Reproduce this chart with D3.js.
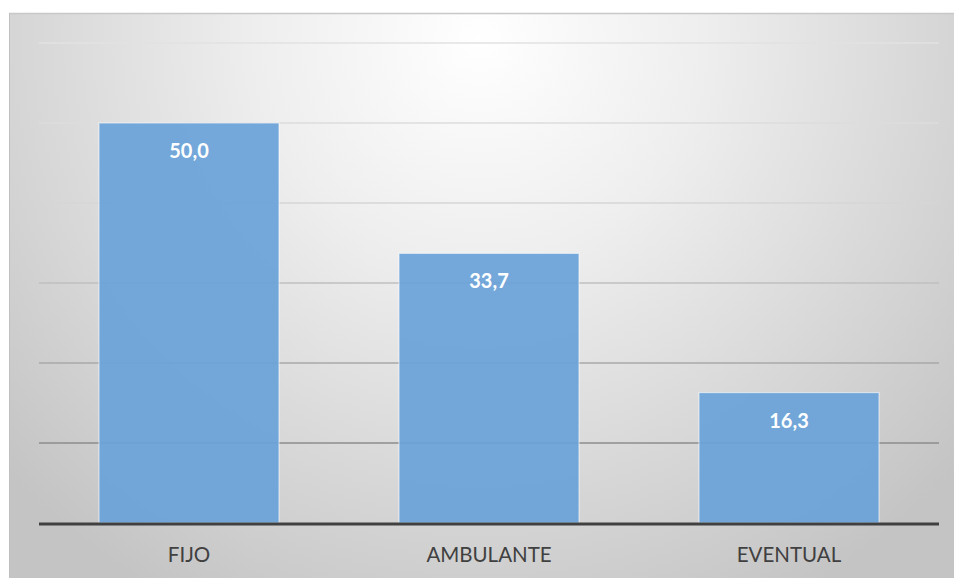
<!DOCTYPE html>
<html>
<head>
<meta charset="utf-8">
<script src="https://cdn.jsdelivr.net/npm/d3@7"></script>
<style>
  html, body { margin: 0; padding: 0; background: #ffffff; }
  svg { display: block; }
</style>
</head>
<body>
<div id="chart"></div>
<script>
const categories = ["FIJO", "AMBULANTE", "EVENTUAL"];
const values = [50.0, 33.7, 16.3];
const valueLabels = ["50,0", "33,7", "16,3"];
const yTicks = [0, 10, 20, 30, 40, 50, 60];

const W = 954, H = 578;
const svg = d3.select("#chart").append("svg").attr("width", W).attr("height", H);

const defs = svg.append("defs");
const grad = defs.append("radialGradient")
  .attr("id", "bg").attr("gradientUnits", "userSpaceOnUse")
  .attr("cx", 480).attr("cy", 40).attr("r", 640)
  .attr("fx", 480).attr("fy", 40);
grad.append("stop").attr("offset", "0").attr("stop-color", "#ffffff");
grad.append("stop").attr("offset", "0.35").attr("stop-color", "#eeeeee");
grad.append("stop").attr("offset", "1").attr("stop-color", "#c4c4c4");

// card
svg.append("rect").attr("x", 9).attr("y", 13).attr("width", W - 9).attr("height", H - 13)
  .attr("fill", "url(#bg)");
svg.append("line").attr("x1", 9).attr("x2", W).attr("y1", 13.5).attr("y2", 13.5)
  .attr("stroke", "#c8c8c8").attr("stroke-width", 1.5);
svg.append("line").attr("x1", 9.5).attr("x2", 9.5).attr("y1", 13).attr("y2", H)
  .attr("stroke", "#c0c0c0").attr("stroke-width", 1);

const x = d3.scaleBand().domain(categories).range([39, 939]).paddingInner(0.4).paddingOuter(0.2);
const y = d3.scaleLinear().domain([0, 60]).range([523, 43]);

const gridColor = d3.scaleLinear().domain([60, 40, 20, 10]).range(["#e2e2e2", "#d6d6d6", "#a8a8a8", "#8c8c8c"]);

// gridlines
svg.append("g").selectAll("line").data(yTicks.filter(d => d > 0)).join("line")
  .attr("x1", 39).attr("x2", 939)
  .attr("y1", d => y(d)).attr("y2", d => y(d))
  .attr("stroke", d => gridColor(d)).attr("stroke-width", 1.6);

// bars
svg.append("g").selectAll("rect").data(values).join("rect")
  .attr("x", (d, i) => x(categories[i]))
  .attr("y", d => y(d))
  .attr("width", x.bandwidth())
  .attr("height", d => y(0) - y(d))
  .attr("fill", "#6aa3d8").attr("fill-opacity", 0.93)
  .attr("stroke", "rgba(255,255,255,0.55)").attr("stroke-width", 1.2);

// baseline
svg.append("line").attr("x1", 39).attr("x2", 939).attr("y1", 524).attr("y2", 524)
  .attr("stroke", "#404040").attr("stroke-width", 3);

// value labels
svg.append("g").selectAll("text").data(values).join("text")
  .attr("x", (d, i) => x(categories[i]) + x.bandwidth() / 2)
  .attr("y", d => y(d) + 35)
  .attr("text-anchor", "middle")
  .attr("font-family", "Lato, 'Open Sans', sans-serif")
  .attr("font-weight", "bold").attr("font-size", 20)
  .attr("fill", "#ffffff")
  .text((d, i) => valueLabels[i]);

// category axis labels
const xAxis = d3.axisBottom(x).tickSize(0).tickPadding(0);
const gx = svg.append("g").attr("transform", "translate(0,524)").call(xAxis);
gx.select(".domain").remove();
gx.selectAll("text")
  .attr("dy", 0).attr("y", 38)
  .attr("font-family", "Lato, 'Open Sans', sans-serif")
  .attr("font-size", 20.5)
  .attr("fill", "#404040");
</script>
</body>
</html>
